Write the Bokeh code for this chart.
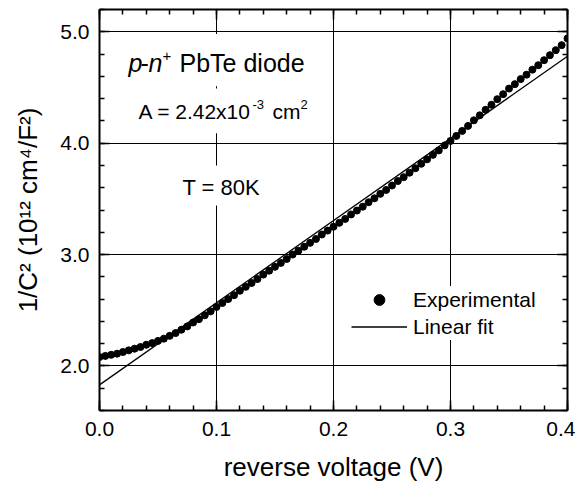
from bokeh.plotting import figure
from bokeh.models import (Range1d, LinearAxis, Label, BoxAnnotation,
                          NumeralTickFormatter, SingleIntervalTicker)
from bokeh.embed import file_html
from bokeh.resources import INLINE

FONT = "Liberation Sans"

# reverse voltage (V) of the measured points
voltage = [0.000, 0.005, 0.010, 0.015, 0.020, 0.025, 0.030, 0.035, 0.040, 0.045,
           0.050, 0.055, 0.060, 0.065, 0.070, 0.075, 0.080, 0.085, 0.090, 0.095,
           0.100, 0.105, 0.110, 0.115, 0.120, 0.125, 0.130, 0.135, 0.140, 0.145,
           0.150, 0.155, 0.160, 0.165, 0.170, 0.175, 0.180, 0.185, 0.190, 0.195,
           0.200, 0.205, 0.210, 0.215, 0.220, 0.225, 0.230, 0.235, 0.240, 0.245,
           0.250, 0.255, 0.260, 0.265, 0.270, 0.275, 0.280, 0.285, 0.290, 0.295,
           0.300, 0.305, 0.310, 0.315, 0.320, 0.325, 0.330, 0.335, 0.340, 0.345,
           0.350, 0.355, 0.360, 0.365, 0.370, 0.375, 0.380, 0.385, 0.390, 0.395,
           0.400]

# 1/C^2 (1e12 cm^4/F^2), experimental
inv_c2 = [2.080, 2.090, 2.100, 2.110, 2.125, 2.140, 2.155, 2.170, 2.190, 2.205,
          2.225, 2.245, 2.270, 2.295, 2.325, 2.355, 2.390, 2.420, 2.455, 2.490,
          2.530, 2.565, 2.600, 2.635, 2.675, 2.710, 2.745, 2.780, 2.820, 2.855,
          2.890, 2.925, 2.960, 3.000, 3.035, 3.070, 3.105, 3.140, 3.180, 3.215,
          3.250, 3.285, 3.320, 3.360, 3.395, 3.430, 3.470, 3.505, 3.545, 3.580,
          3.620, 3.660, 3.695, 3.735, 3.775, 3.815, 3.855, 3.895, 3.935, 3.980,
          4.020, 4.065, 4.110, 4.155, 4.205, 4.250, 4.300, 4.345, 4.395, 4.440,
          4.490, 4.530, 4.575, 4.615, 4.660, 4.700, 4.745, 4.790, 4.835, 4.880,
          4.940]

# linear fit end points
fit_voltage = [0.0, 0.4]
fit_inv_c2 = [1.83, 4.78]

p = figure(width=575, height=486, output_backend="svg", toolbar_location=None,
           x_range=Range1d(0.0, 0.4), y_range=Range1d(1.6, 5.2),
           min_border_left=99, min_border_right=8, min_border_top=9,
           min_border_bottom=76)
p.outline_line_color = None
p.background_fill_color = "white"
p.border_fill_color = "white"

xt = SingleIntervalTicker(interval=0.1, num_minor_ticks=5)
yt = SingleIntervalTicker(interval=1.0, num_minor_ticks=5)

for ax, t in ((p.xaxis[0], xt), (p.yaxis[0], yt)):
    ax.ticker = t
    ax.formatter = NumeralTickFormatter(format="0.0")
    ax.major_label_text_font = FONT
    ax.major_label_text_font_size = "21px"
    ax.major_label_text_color = "black"
    ax.axis_label_text_font = FONT
    ax.axis_label_text_font_size = "26px"
    ax.axis_label_text_font_style = "normal"
    ax.axis_label_text_color = "black"
    ax.axis_line_width = 2
    ax.axis_line_color = "black"
    ax.major_tick_in = 10
    ax.major_tick_out = 0
    ax.minor_tick_in = 5
    ax.minor_tick_out = 0
    ax.major_tick_line_color = "black"
    ax.minor_tick_line_color = "black"
    ax.major_tick_line_width = 1.5
    ax.minor_tick_line_width = 1.5

p.xaxis.axis_label = "reverse voltage (V)"
p.yaxis.axis_label = "1/C\u00b2 (10\u00b9\u00b2 cm\u2074/F\u00b2)"
p.xaxis.major_label_standoff = 11
p.xaxis.axis_label_standoff = 13
p.yaxis.major_label_standoff = 10
p.yaxis.axis_label_standoff = 14

for side, t in (("above", xt), ("right", yt)):
    ax = LinearAxis(ticker=t, major_label_text_font_size="0px",
                    major_label_text_color=None, major_label_standoff=0,
                    axis_line_width=2, axis_line_color="black",
                    major_tick_in=10, major_tick_out=0, minor_tick_in=5,
                    minor_tick_out=0, major_tick_line_width=1.5,
                    minor_tick_line_width=1.5)
    p.add_layout(ax, side)

p.xgrid.ticker = xt
p.ygrid.ticker = yt
for g in (p.xgrid, p.ygrid):
    g.grid_line_color = "black"
    g.grid_line_width = 1
    g.grid_line_alpha = 1.0

# white boxes behind the annotation texts (they interrupt the grid)
for l, r, b, t in ((0.018, 0.19, 4.51, 4.98), (0.026, 0.19, 4.09, 4.49),
                   (0.066, 0.142, 3.44, 3.80)):
    p.add_layout(BoxAnnotation(left=l, right=r, bottom=b, top=t,
                               fill_color="white", fill_alpha=1.0,
                               line_color=None))

p.scatter(voltage, inv_c2, size=7, color="black", legend_label="Experimental")
p.line(fit_voltage, fit_inv_c2, line_color="black", line_width=1.3,
       legend_label="Linear fit")

def lab(x, y, text, size, xo=0, yo=0, style="normal"):
    p.add_layout(Label(x=x, y=y, text=text, x_offset=xo, y_offset=yo,
                       text_font=FONT, text_font_size=size,
                       text_font_style=style, text_color="black",
                       text_baseline="middle", text_align="left"))

# title line: p-n+ PbTe diode
tx, ty = 0.0248, 4.72
lab(tx, ty, "p", "25px", 0, 0, "italic")
lab(tx, ty, "-", "25px", 12, 0)
lab(tx, ty, "n", "25px", 20, 0, "italic")
lab(tx, ty, "+", "15px", 34, 7)
lab(tx, ty, "PbTe diode", "25px", 51, 0)

# area line
ax_, ay_ = 0.0333, 4.28
lab(ax_, ay_, "A = 2.42x10", "21px", 0, 0)
lab(ax_, ay_, "-3", "13px", 114, 7)
lab(ax_, ay_, "cm", "21px", 134, 0)
lab(ax_, ay_, "2", "13px", 162, 7)

lab(0.0709, 3.60, "T = 80K", "22px")

lg = p.legend[0]
lg.location = (252, 70)
lg.border_line_color = None
lg.background_fill_color = "white"
lg.background_fill_alpha = 1.0
lg.padding = 5
lg.margin = 0
lg.spacing = 0
lg.glyph_width = 56
lg.glyph_height = 27
lg.label_height = 27
lg.label_standoff = 6
lg.label_text_font = FONT
lg.label_text_font_size = "21px"
lg.label_text_color = "black"

open("out.html", "w").write(file_html(p, INLINE))
